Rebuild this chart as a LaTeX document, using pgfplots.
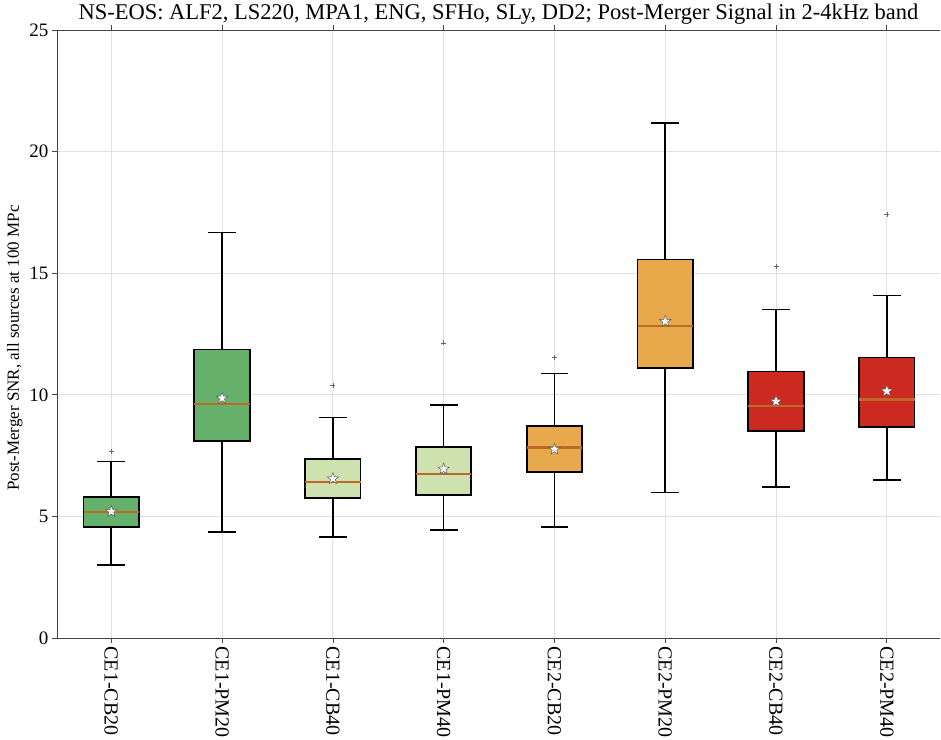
\documentclass[border=0pt]{standalone}
\usepackage{pgfplots}
\pgfplotsset{compat=1.18}
\usepgfplotslibrary{statistics}
\usepackage{fontspec}
\setmainfont{Liberation Serif}

\definecolor{cgreen}{RGB}{101,176,106}
\definecolor{clgreen}{RGB}{206,226,176}
\definecolor{corange}{RGB}{232,168,76}
\definecolor{cred}{RGB}{204,42,32}
\definecolor{cmed}{RGB}{190,105,40}
\definecolor{cgrid}{RGB}{225,225,225}
\definecolor{caxis}{RGB}{70,70,70}

\pgfdeclareplotmark{fstar}{%
  \pgfpathmoveto{\pgfqpointpolar{90}{\pgfplotmarksize}}%
  \pgfpathlineto{\pgfqpointpolar{126}{0.42\pgfplotmarksize}}%
  \pgfpathlineto{\pgfqpointpolar{162}{\pgfplotmarksize}}%
  \pgfpathlineto{\pgfqpointpolar{198}{0.42\pgfplotmarksize}}%
  \pgfpathlineto{\pgfqpointpolar{234}{\pgfplotmarksize}}%
  \pgfpathlineto{\pgfqpointpolar{270}{0.42\pgfplotmarksize}}%
  \pgfpathlineto{\pgfqpointpolar{306}{\pgfplotmarksize}}%
  \pgfpathlineto{\pgfqpointpolar{342}{0.42\pgfplotmarksize}}%
  \pgfpathlineto{\pgfqpointpolar{18}{\pgfplotmarksize}}%
  \pgfpathlineto{\pgfqpointpolar{54}{0.42\pgfplotmarksize}}%
  \pgfpathclose
  \pgfusepathqfillstroke}

\pgfplotsset{
  bx/.style={
    draw=black, line width=1.8pt,
    mark=+, mark size=2.5pt, mark options={draw=gray!80!black, line width=0.6pt, fill=none},
    boxplot/draw direction=y,
    boxplot/box extend=0.5,
    boxplot/whisker extend=0.25,
    boxplot/every median/.style={draw=cmed, line width=2.2pt},
    boxplot/every whisker/.style={draw=black, line width=1.6pt},
  }
}

\begin{document}
\begin{tikzpicture}
\begin{axis}[
  scale only axis,
  width=883pt, height=608pt,
  xmin=-0.49, xmax=7.48,
  ymin=0, ymax=25,
  axis x line*=box, axis y line*=left,
  axis line style={draw=caxis, line width=0.9pt},
  xtick={0,...,7},
  xticklabels={CE1-CB20,CE1-PM20,CE1-CB40,CE1-PM40,CE2-CB20,CE2-PM20,CE2-CB40,CE2-PM40},
  ytick={0,5,...,25},
  tick align=outside,
  major tick length=5pt,
  tick style={draw=caxis, line width=0.7pt},
  x tick label style={rotate=-90, anchor=west, font=\fontsize{20}{22}\selectfont},
  y tick label style={font=\fontsize{19}{21}\selectfont},
  /pgf/number format/assume math mode=true,
  grid=major,
  major grid style={draw=cgrid, line width=0.8pt},
  ylabel={Post-Merger SNR, all sources at 100 MPc},
  ylabel style={font=\fontsize{17}{19}\selectfont, xshift=-14pt},
  title={NS-EOS: ALF2, LS220, MPA1, ENG, SFHo, SLy, DD2; Post-Merger Signal in 2-4kHz band},
  title style={font=\fontsize{22.5}{24}\selectfont, yshift=-4pt},
  clip=false,
]
\addplot[bx, fill=cgreen, boxplot prepared={draw position=0, lower whisker=3.01, lower quartile=4.55, median=5.17, upper quartile=5.80, upper whisker=7.25}]
  table[row sep=\\, y index=0]{data\\7.66\\};
\addplot[bx, fill=cgreen, boxplot prepared={draw position=1, lower whisker=4.35, lower quartile=8.11, median=9.61, upper quartile=11.86, upper whisker=16.68}]
  coordinates {};
\addplot[bx, fill=clgreen, boxplot prepared={draw position=2, lower whisker=4.15, lower quartile=5.74, median=6.40, upper quartile=7.36, upper whisker=9.07}]
  table[row sep=\\, y index=0]{data\\10.38\\};
\addplot[bx, fill=clgreen, boxplot prepared={draw position=3, lower whisker=4.44, lower quartile=5.88, median=6.73, upper quartile=7.84, upper whisker=9.59}]
  table[row sep=\\, y index=0]{data\\12.13\\};
\addplot[bx, fill=corange, boxplot prepared={draw position=4, lower whisker=4.56, lower quartile=6.84, median=7.83, upper quartile=8.72, upper whisker=10.88}]
  table[row sep=\\, y index=0]{data\\11.54\\};
\addplot[bx, fill=corange, boxplot prepared={draw position=5, lower whisker=5.98, lower quartile=11.11, median=12.83, upper quartile=15.56, upper whisker=21.18}]
  coordinates {};
\addplot[bx, fill=cred, boxplot prepared={draw position=6, lower whisker=6.21, lower quartile=8.50, median=9.53, upper quartile=10.96, upper whisker=13.50}]
  table[row sep=\\, y index=0]{data\\15.28\\};
\addplot[bx, fill=cred, boxplot prepared={draw position=7, lower whisker=6.50, lower quartile=8.69, median=9.81, upper quartile=11.53, upper whisker=14.09}]
  table[row sep=\\, y index=0]{data\\17.41\\};
% means
\addplot[only marks, mark=fstar, mark size=6pt, mark options={fill=white, draw=gray!70!black, line width=0.5pt}]
  coordinates {(0,5.20) (1,9.86) (2,6.55) (3,6.95) (4,7.76) (5,13.02) (6,9.73) (7,10.15)};
\end{axis}
\pgfresetboundingbox
\path[use as bounding box] ([xshift=-57pt,yshift=-102pt]current axis.south west) rectangle ([xshift=1pt,yshift=30pt]current axis.north east);
\end{tikzpicture}
\end{document}
